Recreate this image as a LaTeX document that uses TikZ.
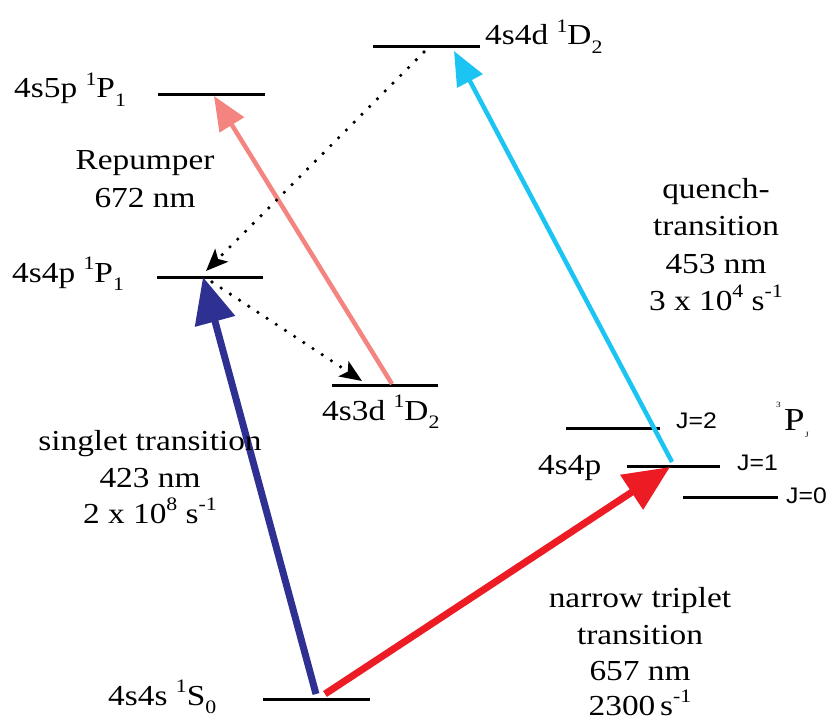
\documentclass[tikz,border=0pt]{standalone}
\usepackage{fontspec}
\setmainfont{Liberation Serif}[FakeStretch=1.15]
\newfontfamily\jfont{Liberation Sans}[FakeStretch=1.1]
\usetikzlibrary{arrows.meta}
\definecolor{navyc}{HTML}{2E3192}
\definecolor{redc}{HTML}{ED1C24}
\definecolor{cyanc}{HTML}{1CC4F4}
\definecolor{pinkc}{HTML}{F48480}
\newcommand{\supx}[1]{\raisebox{0.42em}{\fontsize{19}{19}\selectfont #1}}
\newcommand{\subx}[1]{\raisebox{-0.3em}{\fontsize{19}{19}\selectfont #1}}
\begin{document}
\begin{tikzpicture}[x=1pt,y=-1pt,
  lvl/.style={line width=3pt},
  txt/.style={inner sep=0pt,font=\fontsize{29}{37}\selectfont},
  jtxt/.style={inner sep=0pt,font=\jfont\fontsize{22.5}{25}\selectfont},
  bigarr/.style={line width=7pt,-{Triangle[length=46pt,width=40pt]}},
  medarr/.style={line width=4.5pt,-{Triangle[length=34pt,width=28pt]}},
  dotarr/.style={line width=3.6pt,dash pattern=on 0pt off 11pt,line cap=round,
     -{Stealth[length=22pt,width=18pt,inset=5pt]}}]
\useasboundingbox (0,0) rectangle (829,722);
% levels
\coordinate (d4L) at (373,47);  \coordinate (d4R) at (480,47);
\coordinate (p5L) at (158,95);  \coordinate (p5R) at (265,95);
\coordinate (p4L) at (157,277); \coordinate (p4R) at (263,277);
\coordinate (d3L) at (332,385); \coordinate (d3R) at (438,385);
\coordinate (j2L) at (566,428); \coordinate (j2R) at (660,428);
\coordinate (j1L) at (627,466); \coordinate (j1R) at (720,466);
\coordinate (j0L) at (683,497); \coordinate (j0R) at (778,497);
\coordinate (s0L) at (263,699); \coordinate (s0R) at (370,699);
\foreach \a in {d4,p5,p4,d3,j2,j1,j0,s0} \draw[lvl] (\a L) -- (\a R);
% arrow end points
\coordinate (blueS) at (316,694); \coordinate (blueE) at (203,277);
\coordinate (redS) at (325,694);  \coordinate (redE) at (670,467);
\coordinate (cyanS) at (672,462); \coordinate (cyanE) at (454,51);
\coordinate (pinkS) at (392,384); \coordinate (pinkE) at (214,96);
\coordinate (dotaS) at (424,52);  \coordinate (dotaE) at (206,271);
\coordinate (dotbS) at (212,282); \coordinate (dotbE) at (362,381);
\draw[bigarr,navyc] (blueS) -- (blueE);
\draw[bigarr,redc] (redS) -- (redE);
\draw[medarr,cyanc] (cyanS) -- (cyanE);
\draw[medarr,pinkc] (pinkS) -- (pinkE);
\draw[dotarr] (dotaS) -- (dotaE);
\draw[dotarr] (dotbS) -- (dotbE);
% level labels
\node[txt,anchor=base west] (l4d) at (485,45) {4s4d \supx{1}D\subx{2}};
\node[txt,anchor=base west] (l5p) at (14,98) {4s5p \supx{1}P\subx{1}};
\node[txt,anchor=base west] (l4p) at (12,282) {4s4p \supx{1}P\subx{1}};
\node[txt,anchor=base west] (l3d) at (322,420) {4s3d \supx{1}D\subx{2}};
\node[txt,anchor=base west] (l4pt) at (538,474) {4s4p};
\node[txt,anchor=base west] (l4s) at (108,705) {4s4s \supx{1}S\subx{0}};
\node[jtxt,anchor=base west] (jtwo) at (676,428) {J=2};
\node[jtxt,anchor=base west] (jone) at (737,470) {J=1};
\node[jtxt,anchor=base west] (jzero) at (786,503) {J=0};
\node[inner sep=0pt,anchor=base west,font=\fontsize{8}{8}\selectfont] (tp3) at (776,407) {3};
\node[inner sep=0pt,anchor=base west,font=\fontsize{32}{32}\selectfont] (tpP) at (784,430) {P};
\node[inner sep=0pt,anchor=base west,font=\fontsize{8}{8}\selectfont] (tpJ) at (805,437) {J};
% transition labels
\node[txt,anchor=base] (rep1) at (145,170) {Repumper};
\node[txt,anchor=base] (rep2) at (145,207) {672 nm};
\node[txt,anchor=base] (q1) at (716,198) {quench-};
\node[txt,anchor=base] (q2) at (716,235) {transition};
\node[txt,anchor=base] (q3) at (716,273) {453 nm};
\node[txt,anchor=base] (q4) at (716,310) {3 x 10\supx{4} s\supx{-1}};
\node[txt,anchor=base] (s1) at (150,450) {singlet transition};
\node[txt,anchor=base] (s2) at (150,487) {423 nm};
\node[txt,anchor=base] (s3) at (150,523) {2 x 10\supx{8} s\supx{-1}};
\node[txt,anchor=base] (n1) at (640,607) {narrow triplet};
\node[txt,anchor=base] (n2) at (640,644) {transition};
\node[txt,anchor=base] (n3) at (640,680) {657 nm};
\node[txt,anchor=base] (n4) at (640,715) {2300\,s\supx{-1}};
\end{tikzpicture}
\end{document}
